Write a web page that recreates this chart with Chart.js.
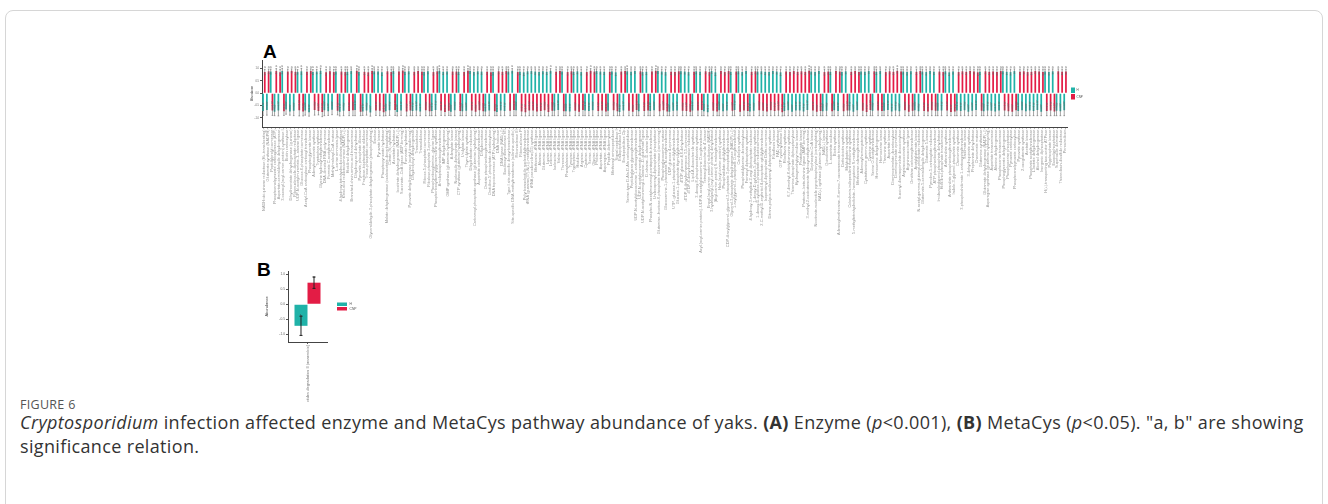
<!DOCTYPE html>
<html>
<head>
<meta charset="utf-8">
<script src="https://cdn.jsdelivr.net/npm/chart.js@4.4.1/dist/chart.umd.min.js"></script>
<style>
  html, body { margin: 0; padding: 0; background: #fff; }
  body { width: 1328px; height: 504px; position: relative; overflow: hidden; font-family: "Open Sans", "Liberation Sans", sans-serif; }
  .frame { position: absolute; left: 5px; top: 10px; width: 1316px; height: 520px; border: 1px solid #d6d6d6; border-radius: 8px; }
  canvas { position: absolute; }
  #chartA { left: 246px; top: 40px; }
  #chartB { left: 250px; top: 262px; }
  .panel { position: absolute; font-family: "Liberation Sans", Arial, sans-serif; font-weight: bold; font-size: 19px; color: #000; }
  .figlabel { position: absolute; left: 20px; top: 396px; font-size: 12.5px; color: #555; letter-spacing: 0.3px; }
  .caption { position: absolute; left: 20px; top: 410px; width: 1300px; font-size: 18px; letter-spacing: 0.35px; line-height: 24px; color: #333; }
</style>
</head>
<body>
<div class="frame"></div>
<div class="panel" style="left:263px;top:41px;">A</div>
<div class="panel" style="left:257px;top:259px;">B</div>
<canvas id="chartA" width="850" height="222"></canvas>
<canvas id="chartB" width="130" height="140"></canvas>
<div class="figlabel">FIGURE 6</div>
<div class="caption"><i>Cryptosporidium</i> infection affected enzyme and MetaCys pathway abundance of yaks. <b>(A)</b> Enzyme (<i>p</i>&lt;0.001), <b>(B)</b> MetaCys (<i>p</i>&lt;0.05). "a, b" are showing significance relation.</div>
<script>
// ---- panel A: enzymes ----
var enzymeNames = [
  "NADH:ubiquinone reductase (H+-translocating)","Glutamate synthase (NADPH)","Peptidylprolyl isomerase","Phosphoenolpyruvate carboxykinase (ATP)","Aspartate-semialdehyde dehydrogenase",
  "3-oxoacyl-[acyl-carrier-protein] synthase I","Biotin carboxylase","Dihydroorotate dehydrogenase (quinone)","Ribonucleoside-diphosphate reductase","UDP-N-acetylmuramate--L-alanine ligase",
  "Glucose-6-phosphate isomerase","Acetyl-CoA carboxylase carboxyl transferase","Phosphoglycerate kinase","Adenylosuccinate synthase","Tryptophan synthase",
  "Glycine hydroxymethyltransferase","DNA-directed RNA polymerase","Formate C-acetyltransferase","Methylmalonyl-CoA mutase","L-serine ammonia-lyase",
  "4-hydroxy-tetrahydrodipicolinate synthase","Ketol-acid reductoisomerase (NADP(+))","Histidinol dehydrogenase","Branched-chain-amino-acid transaminase","Dihydroxy-acid dehydratase",
  "Pyruvate, phosphate dikinase","Fructose-bisphosphate aldolase","Triose-phosphate isomerase","Glyceraldehyde-3-phosphate dehydrogenase (phosphorylating)","Enolase",
  "Pyruvate kinase","Phosphopyruvate hydratase","Malate dehydrogenase (oxaloacetate-decarboxylating)","Citrate (Si)-synthase","Aconitate hydratase",
  "Isocitrate dehydrogenase (NADP(+))","Succinate--CoA ligase (ADP-forming)","Fumarate hydratase","Pyruvate dehydrogenase (acetyl-transferring)","Dihydrolipoyl dehydrogenase",
  "Transketolase","Transaldolase","Ribose-5-phosphate isomerase","Ribulose-phosphate 3-epimerase","Phosphoribosylamine--glycine ligase",
  "Phosphoribosylformylglycinamidine synthase","Amidophosphoribosyltransferase","IMP dehydrogenase","GMP synthase (glutamine-hydrolyzing)","Adenylate kinase",
  "Nucleoside-diphosphate kinase","CTP synthase (glutamine hydrolyzing)","Uridylate kinase","Thymidylate synthase","Dihydrofolate reductase",
  "Carbamoyl-phosphate synthase (glutamine-hydrolyzing)","Aspartate carbamoyltransferase","Dihydroorotase","Orotate phosphoribosyltransferase","Orotidine-5'-phosphate decarboxylase",
  "DNA topoisomerase (ATP-hydrolyzing)","DNA helicase","DNA ligase (NAD(+))","Exodeoxyribonuclease VII","Type I site-specific deoxyribonuclease",
  "Site-specific DNA-methyltransferase (adenine-specific)","Ribonuclease III","Ribonuclease P","Polyribonucleotide nucleotidyltransferase","tRNA (guanine(37)-N(1))-methyltransferase",
  "tRNA pseudouridine(55) synthase","Methionine--tRNA ligase","Alanine--tRNA ligase","Glutamine--tRNA ligase","Lysine--tRNA ligase",
  "Leucine--tRNA ligase","Isoleucine--tRNA ligase","Valine--tRNA ligase","Threonine--tRNA ligase","Phenylalanine--tRNA ligase",
  "Tyrosine--tRNA ligase","Tryptophan--tRNA ligase","Histidine--tRNA ligase","Arginine--tRNA ligase","Cysteine--tRNA ligase",
  "Serine--tRNA ligase","Glycine--tRNA ligase","Proline--tRNA ligase","Aspartate--tRNA ligase","Asparagine--tRNA ligase",
  "Peptide deformylase","Methionyl aminopeptidase","Signal peptidase I","Endopeptidase La","Endopeptidase Clp",
  "Serine-type D-Ala-D-Ala carboxypeptidase","Peptidoglycan glycosyltransferase","UDP-N-acetylglucosamine 1-carboxyvinyltransferase","UDP-N-acetylmuramate dehydrogenase","UDP-N-acetylmuramoyl-L-alanine--D-glutamate ligase",
  "D-alanine--D-alanine ligase","Phospho-N-acetylmuramoyl-pentapeptide-transferase","Undecaprenyl-diphosphate phosphatase","Glutamine--fructose-6-phosphate transaminase (isomerizing)","Phosphoglucosamine mutase",
  "Glucosamine-1-phosphate N-acetyltransferase","UDP-glucose 4-epimerase","UTP--glucose-1-phosphate uridylyltransferase","Glucose-1-phosphate thymidylyltransferase","dTDP-glucose 4,6-dehydratase",
  "dTDP-4-dehydrorhamnose 3,5-epimerase","dTDP-4-dehydrorhamnose reductase","Lipid-A-disaccharide synthase","3-deoxy-8-phosphooctulonate synthase","Acyl-[acyl-carrier-protein]--UDP-N-acetylglucosamine O-acyltransferase",
  "Tetraacyldisaccharide 4'-kinase","Enoyl-[acyl-carrier-protein] reductase (NADH)","3-hydroxyacyl-[acyl-carrier-protein] dehydratase","[Acyl-carrier-protein] S-malonyltransferase","Holo-[acyl-carrier-protein] synthase",
  "Phosphatidate cytidylyltransferase","CDP-diacylglycerol--glycerol-3-phosphate 3-phosphatidyltransferase","Glycerol-3-phosphate dehydrogenase (NAD(P)(+))","1-acylglycerol-3-phosphate O-acyltransferase","Cardiolipin synthase",
  "Phosphatidylserine decarboxylase","Farnesyl diphosphate synthase","4-hydroxy-3-methylbut-2-enyl diphosphate reductase","1-deoxy-D-xylulose-5-phosphate synthase","1-deoxy-D-xylulose-5-phosphate reductoisomerase",
  "2-C-methyl-D-erythritol 4-phosphate cytidylyltransferase","Isopentenyl-diphosphate Delta-isomerase","Ditrans,polycis-undecaprenyl-diphosphate synthase","Riboflavin kinase","FAD synthetase",
  "GTP cyclohydrolase II","Riboflavin synthase","6,7-dimethyl-8-ribityllumazine synthase","Thiamine-phosphate diphosphorylase","Hydroxymethylpyrimidine kinase",
  "Pantothenate kinase","Pantoate--beta-alanine ligase (AMP-forming)","3-methyl-2-oxobutanoate hydroxymethyltransferase","Dephospho-CoA kinase","Nicotinate-nucleotide pyrophosphorylase (carboxylating)",
  "NAD(+) synthase (glutamine-hydrolyzing)","NAD(+) kinase","Quinolinate synthase","L-aspartate oxidase","Biotin synthase",
  "Adenosylmethionine--8-amino-7-oxononanoate transaminase","Dethiobiotin synthase","Molybdopterin synthase","Cobalamin-independent methionine synthase","5-methyltetrahydrofolate--homocysteine S-methyltransferase",
  "Methionine adenosyltransferase","Adenosylhomocysteinase","Cystathionine gamma-synthase","Cysteine synthase","Serine O-acetyltransferase",
  "Homoserine dehydrogenase","Homoserine kinase","Threonine synthase","Aspartate kinase","Diaminopimelate decarboxylase",
  "Diaminopimelate epimerase","Succinyl-diaminopimelate desuccinylase","Argininosuccinate synthase","Argininosuccinate lyase","Ornithine carbamoyltransferase",
  "Acetylglutamate kinase","N-acetyl-gamma-glutamyl-phosphate reductase","Glutamate-5-semialdehyde dehydrogenase","Glutamate 5-kinase","Pyrroline-5-carboxylate reductase",
  "ATP phosphoribosyltransferase","Imidazoleglycerol-phosphate dehydratase","Histidinol-phosphate transaminase","Anthranilate synthase","Anthranilate phosphoribosyltransferase",
  "Indole-3-glycerol-phosphate synthase","Chorismate synthase","3-phosphoshikimate 1-carboxyvinyltransferase","Shikimate kinase","3-dehydroquinate synthase",
  "Prephenate dehydratase","Chorismate mutase","Glutamine synthetase","Glutamate dehydrogenase (NADP(+))","Asparagine synthase (glutamine-hydrolyzing)",
  "Aspartate transaminase","Alanine dehydrogenase","Phosphoserine transaminase","Phosphoglycerate dehydrogenase","Phosphoserine phosphatase",
  "Pyruvate carboxylase","Phosphoenolpyruvate carboxylase","Pyruvate synthase","2-oxoglutarate synthase","Acetate kinase",
  "Phosphate acetyltransferase","L-lactate dehydrogenase","Alcohol dehydrogenase","Inorganic diphosphatase","H(+)-transporting two-sector ATPase",
  "Polyphosphate kinase","Exopolyphosphatase","Superoxide dismutase","Thioredoxin-disulfide reductase","Peroxiredoxin"
];

var hMean = [
  -0.72,-0.68,0.88,-0.75,-0.70,0.90,-0.66,-0.74,-0.71,0.87,
  0.89,-0.70,-0.77,0.86,0.88,0.91,-0.69,-0.73,-0.67,0.88,
  -0.75,-0.71,0.87,0.90,-0.68,0.86,-0.74,-0.70,-0.78,0.89,
  0.88,0.85,-0.73,-0.69,0.90,-0.76,-0.70,0.87,0.89,-0.72,
  -0.70,-0.74,0.86,0.89,-0.72,-0.68,0.91,0.87,0.88,-0.75,
  -0.69,0.87,-0.73,-0.71,0.90,0.86,0.89,0.88,-0.74,-0.70,
  0.86,-0.76,-0.70,-0.72,0.88,0.91,-0.69,0.87,0.85,0.89,
  0.90,0.88,0.86,0.89,0.87,0.91,-0.71,-0.68,0.88,-0.73,
  -0.74,0.87,0.89,0.86,-0.70,-0.72,-0.69,0.90,0.88,0.87,
  -0.71,0.88,0.85,-0.76,-0.70,0.89,0.87,0.90,-0.73,0.86,
  0.87,-0.72,-0.69,0.90,0.88,0.86,-0.75,-0.71,-0.70,0.89,
  0.88,0.86,-0.70,0.89,0.87,-0.73,-0.77,0.90,0.85,-0.69,
  -0.73,-0.70,0.87,-0.68,0.89,0.86,0.90,-0.74,-0.71,0.88,
  0.89,0.87,0.86,0.90,0.88,0.85,-0.72,-0.69,-0.75,-0.70,
  -0.70,-0.74,-0.68,0.88,0.86,0.90,-0.73,-0.71,0.87,-0.69,
  -0.72,0.86,0.89,-0.70,-0.75,-0.69,0.88,0.87,0.90,-0.71,
  0.87,0.90,-0.71,-0.68,-0.74,-0.70,-0.73,0.88,0.86,0.89,
  -0.69,-0.73,0.88,0.86,0.90,0.87,-0.71,-0.70,0.89,0.85,
  0.88,-0.70,-0.72,-0.69,-0.75,-0.71,-0.68,0.87,-0.73,-0.70,
  -0.71,-0.74,-0.70,0.89,0.87,0.86,0.90,-0.72,-0.69,-0.73,
  -0.70,-0.72,-0.68,-0.75,0.88,0.86,0.89,-0.71,-0.73,-0.69
];
var cnpMean = [
  0.86,0.89,-0.70,0.90,0.85,-0.73,0.88,0.91,0.87,-0.69,
  -0.74,0.87,0.90,-0.68,-0.72,-0.76,0.85,0.89,0.86,-0.71,
  0.88,0.86,-0.72,-0.69,0.91,-0.75,0.87,0.85,0.90,-0.70,
  -0.71,-0.77,0.89,0.86,-0.68,0.88,0.92,-0.74,-0.70,0.87,
  0.90,0.87,-0.69,-0.73,0.86,0.89,-0.70,-0.76,-0.71,0.88,
  0.88,-0.72,0.86,0.91,-0.70,-0.75,-0.69,-0.73,0.87,0.85,
  -0.73,0.89,0.87,0.90,-0.71,-0.68,0.86,-0.74,-0.77,-0.70,
  -0.70,-0.74,-0.72,-0.69,-0.76,-0.71,0.87,0.90,-0.73,0.86,
  0.89,-0.71,-0.75,-0.68,0.86,0.91,0.88,-0.72,-0.70,-0.74,
  0.87,-0.69,-0.73,0.88,0.90,-0.71,-0.75,-0.68,0.89,-0.72,
  -0.70,0.88,0.91,-0.73,-0.69,-0.74,0.87,0.86,0.89,-0.71,
  -0.72,-0.75,0.87,-0.70,-0.68,0.89,0.86,-0.71,-0.74,0.90,
  0.86,0.90,-0.71,0.88,-0.75,-0.70,-0.72,0.87,0.89,-0.69,
  -0.71,-0.74,-0.69,-0.72,-0.70,-0.77,0.88,0.86,0.90,0.87,
  0.89,0.87,0.91,-0.70,-0.75,-0.72,0.86,0.88,-0.73,0.90,
  0.88,-0.73,-0.70,0.87,0.90,0.86,-0.71,-0.76,-0.68,0.89,
  -0.70,-0.72,0.86,0.89,0.87,0.91,0.88,-0.69,-0.75,-0.71,
  0.87,0.90,-0.72,-0.74,-0.69,-0.71,0.88,0.86,-0.70,-0.76,
  -0.74,0.86,0.89,0.87,0.90,0.88,0.85,-0.71,0.89,0.87,
  0.88,0.86,0.90,-0.70,-0.73,-0.75,-0.69,0.87,0.89,0.86,
  0.87,0.90,0.88,0.86,-0.72,-0.70,-0.74,0.89,0.87,0.88
];
var hSe = [
  .18,.21,.10,.16,.22,.11,.19,.15,.20,.09,
  .12,.19,.16,.10,.09,.11,.22,.17,.20,.10,
  .17,.20,.11,.09,.23,.12,.16,.19,.15,.10,
  .10,.13,.18,.21,.09,.16,.20,.11,.10,.19,
  .21,.17,.12,.10,.19,.23,.09,.11,.10,.16,
  .22,.11,.18,.20,.09,.12,.10,.11,.17,.21,
  .12,.15,.21,.19,.10,.09,.22,.11,.13,.10,
  .09,.11,.12,.10,.11,.09,.20,.23,.10,.18,
  .17,.11,.10,.12,.21,.19,.22,.09,.10,.11,
  .20,.10,.13,.15,.21,.11,.12,.09,.18,.12,
  .11,.19,.22,.09,.10,.12,.16,.20,.21,.10,
  .10,.12,.21,.10,.11,.18,.15,.09,.13,.22,
  .18,.21,.11,.23,.10,.12,.09,.17,.20,.10,
  .10,.11,.12,.09,.10,.13,.19,.22,.16,.21,
  .21,.17,.23,.10,.12,.09,.18,.20,.11,.22,
  .19,.12,.10,.21,.16,.22,.10,.11,.09,.20,
  .11,.09,.20,.23,.17,.21,.18,.10,.12,.10,
  .22,.18,.10,.12,.09,.11,.20,.21,.10,.13,
  .10,.21,.19,.22,.16,.20,.23,.11,.18,.21,
  .20,.17,.21,.10,.11,.12,.09,.19,.22,.18,
  .21,.19,.23,.16,.10,.12,.10,.20,.18,.22
];
var cnpSe = [
  .11,.09,.20,.10,.12,.17,.10,.08,.12,.23,
  .18,.11,.09,.21,.16,.19,.12,.10,.11,.17,
  .10,.12,.19,.22,.09,.16,.11,.13,.10,.20,
  .20,.15,.10,.12,.22,.11,.09,.18,.21,.12,
  .09,.11,.22,.18,.12,.10,.20,.15,.19,.11,
  .10,.19,.12,.09,.21,.16,.22,.18,.11,.13,
  .18,.10,.11,.09,.20,.23,.12,.17,.15,.21,
  .21,.17,.19,.22,.16,.20,.11,.09,.18,.12,
  .10,.20,.16,.23,.12,.09,.10,.19,.21,.17,
  .11,.22,.18,.10,.09,.20,.16,.23,.10,.19,
  .21,.10,.09,.18,.22,.17,.11,.12,.10,.20,
  .19,.16,.11,.21,.23,.10,.12,.20,.17,.09,
  .12,.09,.20,.10,.16,.21,.19,.11,.10,.22,
  .20,.17,.22,.19,.21,.15,.10,.12,.09,.11,
  .10,.11,.09,.21,.16,.19,.12,.10,.18,.09,
  .11,.18,.21,.11,.09,.12,.20,.15,.23,.10,
  .21,.19,.12,.10,.11,.09,.10,.22,.16,.20,
  .11,.09,.19,.17,.22,.20,.10,.12,.21,.15,
  .17,.12,.10,.11,.09,.10,.13,.20,.10,.11,
  .10,.12,.09,.21,.18,.16,.22,.11,.10,.12,
  .11,.09,.10,.12,.19,.21,.17,.10,.11,.10
];
var yTicksA = [-1, -0.5, 0, 0.5, 1];

// ---- panel B: MetaCyc pathway ----
var pathwayNames = ["purine nucleotides degradation II (anaerobic)"];
var hMeanB = [-0.72];
var cnpMeanB = [0.72];
var hSeB = [0.32];
var cnpSeB = [0.19];
var yTicksB = [-1, -0.5, 0, 0.5, 1];

var groups = ["H", "CNP"];
var teal = "#20b2a8";
var red = "#e31c45";

Chart.defaults.font.family = "'Liberation Sans', Arial, sans-serif";

// error bars + a/b letters
var errorBars = {
  id: 'errorBars',
  afterDatasetsDraw: function(chart) {
    var o = chart.options.plugins.errorBars;
    var ctx = chart.ctx;
    var y = chart.scales.y;
    var ds = chart.data.datasets;
    ctx.save();
    ds.forEach(function(d, i) {
      var meta = chart.getDatasetMeta(i);
      meta.data.forEach(function(el, j) {
        var v = d.data[j], e = d.errors[j];
        var top = y.getPixelForValue(v + e), bot = y.getPixelForValue(v - e);
        ctx.strokeStyle = o.color;
        ctx.lineWidth = o.width;
        ctx.beginPath();
        ctx.moveTo(el.x, top); ctx.lineTo(el.x, bot);
        ctx.moveTo(el.x - o.cap, top); ctx.lineTo(el.x + o.cap, top);
        ctx.moveTo(el.x - o.cap, bot); ctx.lineTo(el.x + o.cap, bot);
        ctx.stroke();
        var other = ds[1 - i].data[j];
        ctx.fillStyle = o.letterColor;
        ctx.font = o.letterSize + "px 'Liberation Sans', Arial, sans-serif";
        ctx.textAlign = 'center';
        ctx.textBaseline = o.letterBaseline;
        ctx.fillText(v >= other ? 'a' : 'b', el.x, top - o.letterOffset);
      });
    });
    ctx.restore();
  }
};

// small legend right of the panel
var sideLegend = {
  id: 'sideLegend',
  afterDraw: function(chart) {
    var o = chart.options.plugins.sideLegend;
    var ctx = chart.ctx, a = chart.chartArea;
    var ds = chart.data.datasets;
    var x = a.right + o.gap;
    var y0 = (a.top + a.bottom) / 2 - ds.length * o.boxH / 2;
    ctx.save();
    ds.forEach(function(d, i) {
      var yy = y0 + i * o.boxH;
      ctx.fillStyle = d.backgroundColor;
      ctx.fillRect(x, yy + 0.5, o.boxW, o.boxH - 1);
      ctx.fillStyle = '#555';
      ctx.font = o.fontSize + "px 'Liberation Sans', Arial, sans-serif";
      ctx.textAlign = 'left';
      ctx.textBaseline = 'middle';
      ctx.fillText(d.label, x + o.boxW + o.textGap, yy + o.boxH / 2);
    });
    ctx.restore();
  }
};

function axisY(min, max, ticks, width, tickSize, titleSize, titlePad) {
  return {
    min: min, max: max,
    afterBuildTicks: function(s) { s.ticks = ticks.map(function(v) { return {value: v}; }); },
    afterFit: function(s) { s.width = width; },
    grid: {display: true, drawOnChartArea: false, drawTicks: true, tickLength: 2, color: '#555'},
    border: {display: true, color: '#444', width: 1},
    ticks: {color: '#666', font: {size: tickSize}, padding: 1, callback: function(v) { return Number(v).toFixed(1); }},
    title: {display: true, text: 'Abundance', color: '#444', font: {size: titleSize}, padding: {top: titlePad, bottom: 0}}
  };
}

new Chart(document.getElementById('chartA'), {
  type: 'bar',
  data: {
    labels: enzymeNames,
    datasets: [
      {label: groups[0], data: hMean, errors: hSe, backgroundColor: teal},
      {label: groups[1], data: cnpMean, errors: cnpSe, backgroundColor: red}
    ]
  },
  options: {
    responsive: false,
    animation: false,
    layout: {padding: {top: 20, right: 29, left: 0, bottom: 0}},
    datasets: {bar: {categoryPercentage: 0.9, barPercentage: 1, borderWidth: 0}},
    plugins: {
      legend: {display: false},
      tooltip: {enabled: false},
      errorBars: {color: '#666', width: 0.6, cap: 0.8, letterColor: '#666', letterSize: 3.2, letterBaseline: 'bottom', letterOffset: 0.5},
      sideLegend: {gap: 4, boxW: 4, boxH: 6.5, fontSize: 3, textGap: 1.5}
    },
    scales: {
      x: {
        afterFit: function(s) { s.height = 135; },
        grid: {display: true, drawOnChartArea: false, drawTicks: true, tickLength: 1.5, color: '#777', offset: false},
        border: {display: true, color: '#444', width: 1},
        ticks: {color: '#999', font: {size: 3.9}, autoSkip: false, minRotation: 90, maxRotation: 90, padding: 1}
      },
      y: axisY(-1.37, 1.35, yTicksA, 16, 2.6, 3, 4)
    }
  },
  plugins: [errorBars, sideLegend]
});

new Chart(document.getElementById('chartB'), {
  type: 'bar',
  data: {
    labels: pathwayNames,
    datasets: [
      {label: groups[0], data: hMeanB, errors: hSeB, backgroundColor: teal},
      {label: groups[1], data: cnpMeanB, errors: cnpSeB, backgroundColor: red}
    ]
  },
  options: {
    responsive: false,
    animation: false,
    layout: {padding: {top: 9, right: 53, left: 0, bottom: 0}},
    datasets: {bar: {categoryPercentage: 0.667, barPercentage: 1, borderWidth: 0}},
    plugins: {
      legend: {display: false},
      tooltip: {enabled: false},
      errorBars: {color: '#222', width: 1, cap: 1.5, letterColor: '#333', letterSize: 4, letterBaseline: 'middle', letterOffset: 0},
      sideLegend: {gap: 10, boxW: 10, boxH: 4.5, fontSize: 3.3, textGap: 2.5}
    },
    scales: {
      x: {
        afterFit: function(s) { s.height = 60; },
        grid: {display: true, drawOnChartArea: false, drawTicks: true, tickLength: 2, color: '#555', offset: false},
        border: {display: true, color: '#444', width: 1},
        ticks: {color: '#777', font: {size: 4}, autoSkip: false, minRotation: 90, maxRotation: 90, padding: 1}
      },
      y: axisY(-1.26, 1.11, yTicksB, 38, 3.3, 4, 14)
    }
  },
  plugins: [errorBars, sideLegend]
});
</script>
</body>
</html>
